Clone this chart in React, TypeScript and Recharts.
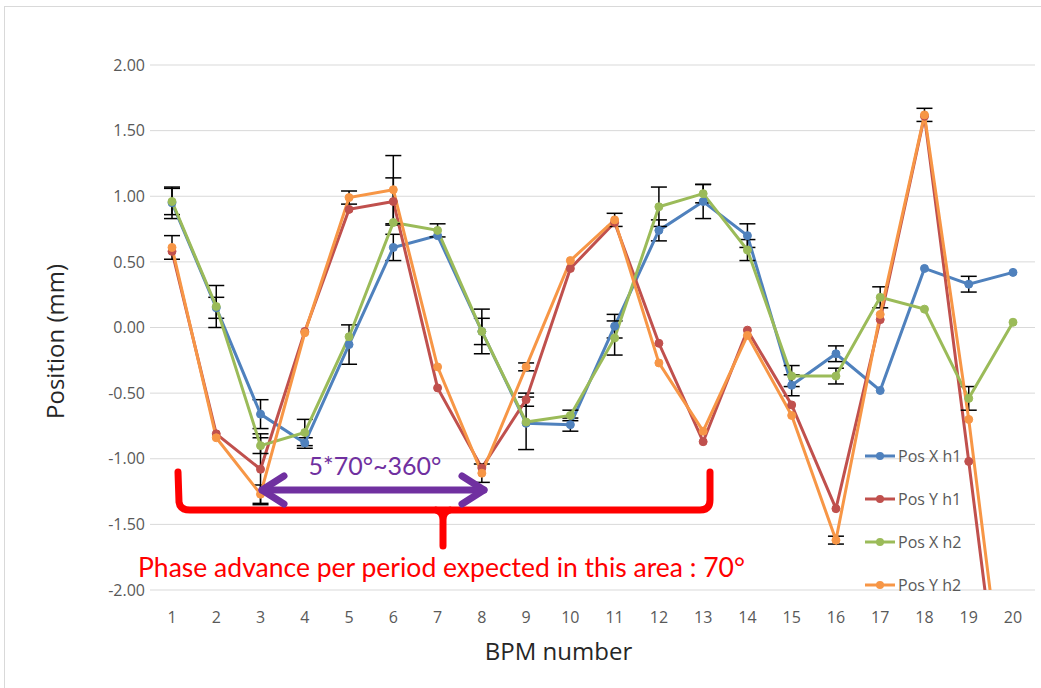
import React from "react";
import {
  LineChart,
  Line,
  XAxis,
  YAxis,
  CartesianGrid,
  ErrorBar,
  Label,
} from "recharts";

// BPM index along the ring
const bpmNumbers = ["1", "2", "3", "4", "5", "6", "7", "8", "9", "10", "11", "12", "13", "14", "15", "16", "17", "18", "19", "20"];

// positions in mm (last Y points run off the bottom of the plot)
const posXh1 = [0.95, 0.15, -0.66, -0.88, -0.13, 0.61, 0.70, -0.03, -0.73, -0.74, 0.01, 0.74, 0.96, 0.70, -0.44, -0.20, -0.48, 0.45, 0.33, 0.42];
const posYh1 = [0.58, -0.81, -1.08, -0.03, 0.90, 0.96, -0.46, -1.07, -0.55, 0.45, 0.80, -0.12, -0.87, -0.02, -0.59, -1.38, 0.06, 1.61, -1.02, -3.7];
const posXh2 = [0.96, 0.16, -0.90, -0.80, -0.07, 0.80, 0.74, -0.03, -0.72, -0.67, -0.08, 0.92, 1.02, 0.59, -0.37, -0.37, 0.23, 0.14, -0.54, 0.04];
const posYh2 = [0.61, -0.84, -1.27, -0.04, 0.99, 1.05, -0.30, -1.11, -0.30, 0.51, 0.82, -0.27, -0.79, -0.06, -0.67, -1.62, 0.10, 1.62, -0.70, -3.4];

// error bar half widths (0 = no bar)
const errXh1 = [0.12, 0.08, 0.11, 0.04, 0.15, 0.10, 0, 0.10, 0.20, 0.05, 0.09, 0.08, 0.13, 0.09, 0.08, 0.06, 0, 0, 0.06, 0];
const errYh1 = [0, 0, 0.27, 0, 0, 0.18, 0, 0, 0.05, 0, 0, 0, 0, 0, 0, 0, 0, 0, 0, 0];
const errXh2 = [0.10, 0.16, 0.06, 0.10, 0, 0, 0.05, 0.17, 0, 0.04, 0.13, 0.15, 0.07, 0.08, 0.08, 0.06, 0.08, 0, 0.09, 0];
const errYh2 = [0.09, 0, 0.07, 0, 0.05, 0.26, 0, 0.07, 0.03, 0, 0.05, 0, 0, 0, 0, 0.03, 0, 0.05, 0, 0];

const yTicks = [-2, -1.5, -1, -0.5, 0, 0.5, 1, 1.5, 2];

const series = [
  { key: "xh1", err: "exh1", name: "Pos X h1", color: "#4F81BD" },
  { key: "yh1", err: "eyh1", name: "Pos Y h1", color: "#C0504D" },
  { key: "xh2", err: "exh2", name: "Pos X h2", color: "#9BBB59" },
  { key: "yh2", err: "eyh2", name: "Pos Y h2", color: "#F79646" },
];

const data = bpmNumbers.map((bpm, i) => ({
  bpm,
  xh1: posXh1[i],
  yh1: posYh1[i],
  xh2: posXh2[i],
  yh2: posYh2[i],
  exh1: errXh1[i],
  eyh1: errYh1[i],
  exh2: errXh2[i],
  eyh2: errYh2[i],
}));

const font = "'Open Sans', 'Noto Sans', sans-serif";
const axisGray = "#595959";

// legend sits inside the plot, so it's kept out of recharts' layout
function LegendBox() {
  return (
    <div
      style={{
        position: "absolute",
        left: 864,
        top: 434,
        fontFamily: font,
        fontSize: 16,
        color: axisGray,
      }}
    >
      {series.map((s) => (
        <div key={s.key} style={{ display: "flex", alignItems: "center", height: 43 }}>
          <svg width={32} height={10}>
            <line x1={1} y1={5} x2={31} y2={5} stroke={s.color} strokeWidth={3} />
            <circle cx={16} cy={5} r={4} fill={s.color} />
          </svg>
          <span style={{ marginLeft: 2 }}>{s.name}</span>
        </div>
      ))}
    </div>
  );
}

function Annotations() {
  return (
    <svg
      width={1041}
      height={688}
      style={{ position: "absolute", left: 0, top: 0, pointerEvents: "none" }}
    >
      {/* red bracket over BPM 1..13 */}
      <path
        d="M178,472 L179,502 Q180,510 190,510 L700,510 Q710,510 710,500 L710,472"
        fill="none"
        stroke="#FF0000"
        strokeWidth={7}
        strokeLinecap="round"
        strokeLinejoin="round"
      />
      <path d="M436,510 Q443,512 443,520 L443,546 M450,510 Q443,512 443,520" fill="none" stroke="#FF0000" strokeWidth={7} strokeLinecap="round" />
      <text
        x={138}
        y={577}
        fill="#FF0000"
        fontFamily="Lato, sans-serif"
        fontSize={26}
        textLength={607}
        lengthAdjust="spacingAndGlyphs"
      >
        Phase advance per period expected in this area : 70°
      </text>
      {/* purple double arrow */}
      <g stroke="#7030A0" strokeWidth={7} strokeLinecap="round" strokeLinejoin="round" fill="none">
        <line x1={262} y1={490} x2={484} y2={490} />
        <polyline points="284,476 262,490 284,504" />
        <polyline points="462,476 484,490 462,504" />
      </g>
      <text
        x={375}
        y={475}
        textAnchor="middle"
        fill="#7030A0"
        fontFamily="Lato, sans-serif"
        fontSize={25}
      >
        5*70°~360°
      </text>
    </svg>
  );
}

export default function App() {
  return (
    <div
      style={{
        position: "absolute",
        left: 0,
        top: 0,
        width: 1041,
        height: 688,
        background: "#fff",
        overflow: "hidden",
      }}
    >
      <div
        style={{
          position: "absolute",
          left: 4,
          top: 6,
          width: 1100,
          height: 720,
          border: "1px solid #D9D9D9",
        }}
      />
      <LineChart
        width={1041}
        height={688}
        data={data}
        margin={{ top: 65, right: 6, left: 90, bottom: 68 }}
        style={{ position: "absolute", left: 0, top: 0 }}
      >
        <CartesianGrid vertical={false} stroke="#D9D9D9" strokeWidth={1} />
        <XAxis
          dataKey="bpm"
          axisLine={false}
          tickLine={false}
          tickSize={0}
          tickMargin={22}
          height={30}
          padding={{ left: 22, right: 22 }}
          tick={{ fill: axisGray, fontSize: 16, fontFamily: font }}
          interval={0}
        >
          <Label
            content={({ viewBox }: any) => (
              <text
                x={viewBox.x + viewBox.width / 2 - 34}
                y={660}
                textAnchor="middle"
                fill="#262626"
                fontSize={24}
                fontFamily={font}
              >
                BPM number
              </text>
            )}
          />
        </XAxis>
        <YAxis
          type="number"
          domain={[-2, 2]}
          ticks={yTicks}
          allowDataOverflow
          axisLine={false}
          tickLine={false}
          tickSize={0}
          tickMargin={5}
          width={60}
          tickFormatter={(v: number) => v.toFixed(2)}
          tick={{ fill: axisGray, fontSize: 16, fontFamily: font }}
        >
          <Label
            content={({ viewBox }: any) => (
              <text
                transform={`translate(${viewBox.x - 26}, ${viewBox.y + viewBox.height / 2 + 14}) rotate(-90)`}
                textAnchor="middle"
                fill="#262626"
                fontSize={24}
                fontFamily={font}
              >
                Position (mm)
              </text>
            )}
          />
        </YAxis>
        {series.map((s) => (
          <Line
            key={s.key}
            dataKey={s.key}
            name={s.name}
            stroke={s.color}
            strokeWidth={3}
            dot={{ r: 4, fill: s.color, stroke: s.color, strokeWidth: 1 }}
            activeDot={false}
            isAnimationActive={false}
          >
            <ErrorBar
              dataKey={s.err}
              direction="y"
              width={8}
              stroke="#000"
              strokeWidth={1.5}
              isAnimationActive={false}
            />
          </Line>
        ))}
      </LineChart>
      <LegendBox />
      <Annotations />
    </div>
  );
}
